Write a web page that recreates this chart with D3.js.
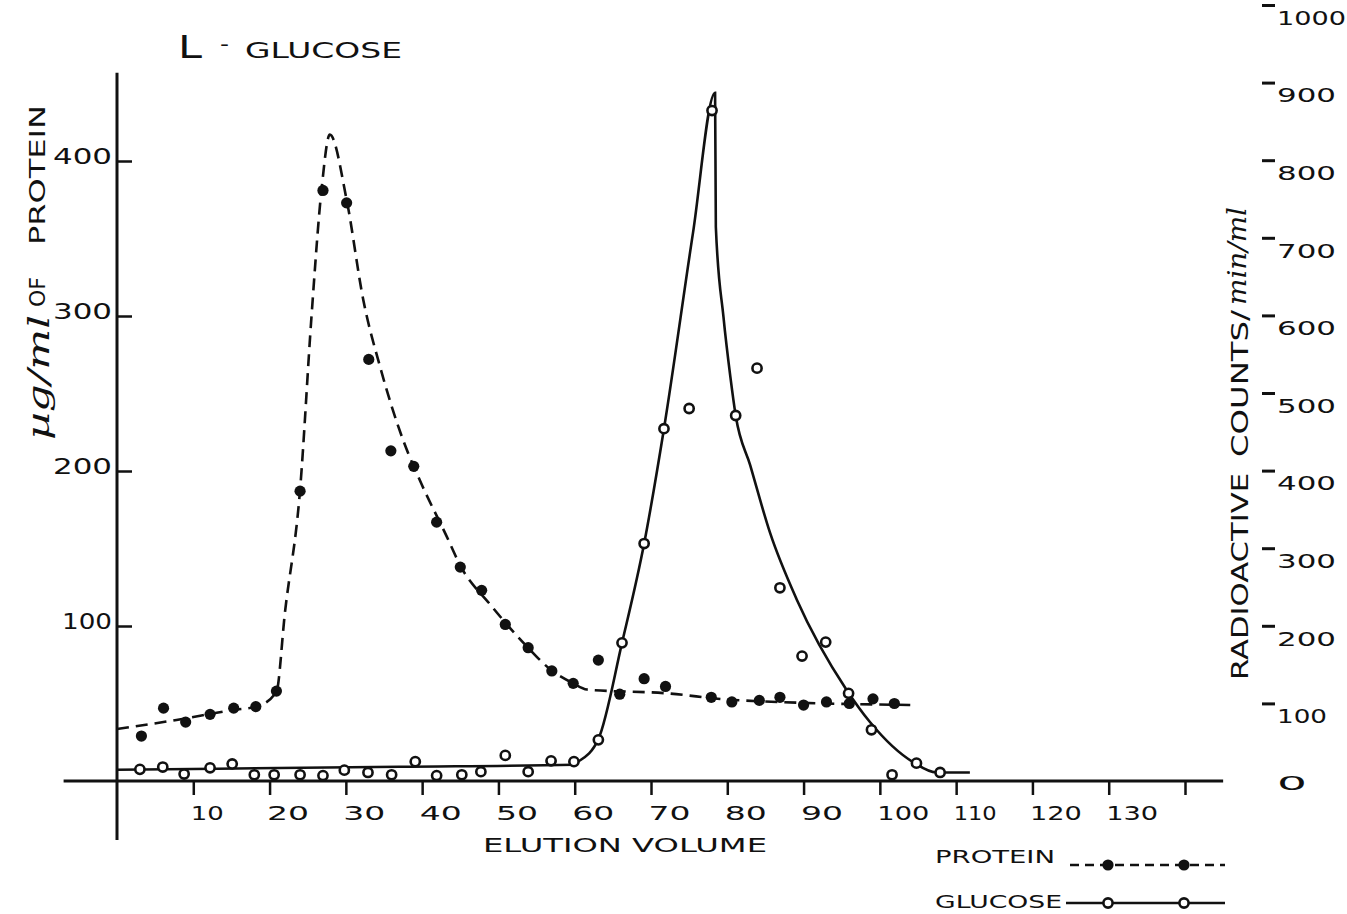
<!DOCTYPE html>
<html>
<head>
<meta charset="utf-8">
<script src="https://cdn.jsdelivr.net/npm/d3@7"></script>
<style>
  html, body { margin: 0; padding: 0; background: #fff; }
  svg { display: block; }
  text { fill: #111; font-family: "DejaVu Sans", sans-serif; }
</style>
</head>
<body>
<svg id="chart" width="1347" height="914"></svg>
<script>
// Axis ticks
const xTicks = [10, 20, 30, 40, 50, 60, 70, 80, 90, 100, 110, 120, 130, 140];
const xTickLabels = ["10", "20", "30", "40", "50", "60", "70", "80", "90", "100", "110", "120", "130", ""];
const proteinTicks = [100, 200, 300, 400];
const countTicks = [0, 100, 200, 300, 400, 500, 600, 700, 800, 900, 1000];

// Protein fractions (µg/ml)
const proteinVolume = [3.2, 6.1, 9.0, 12.2, 15.3, 18.2, 20.9, 24.0, 27.0, 30.1, 33.0, 35.9, 38.9, 41.9,
  45.0, 47.8, 50.9, 53.9, 57.0, 59.8, 63.1, 65.9, 69.1, 71.9, 77.9, 80.6, 84.2, 86.9, 90.0, 93.0,
  96.0, 99.1, 101.9];
const proteinConc = [29, 47, 38, 43, 47, 48, 58, 187, 381, 373, 272, 213, 203, 167,
  138, 123, 101, 86, 71, 63, 78, 56, 66, 61, 54, 51, 52, 54, 49, 51,
  50, 53, 50];

// Glucose fractions (counts/min/ml)
const glucoseVolume = [3.0, 6.0, 8.8, 12.2, 15.1, 18.0, 20.6, 24.0, 27.0, 29.8, 32.9, 36.0, 39.1, 41.9,
  45.2, 47.7, 50.9, 53.9, 56.9, 59.9, 63.1, 66.2, 69.1, 71.7, 75.0, 78.0, 81.1, 83.9, 86.9, 89.8,
  92.9, 95.9, 98.9, 101.6, 104.8, 107.9];
const glucoseCounts = [15, 18, 9, 17, 22, 8, 8, 8, 7, 14, 11, 8, 25, 7,
  8, 12, 33, 12, 26, 25, 53, 178, 306, 454, 480, 864, 471, 532, 249, 161,
  179, 113, 66, 8, 23, 11];

// Hand-fitted elution curves
const proteinCurveVolume = [0, 7.8, 15.2, 18.3, 20.9, 22.0, 24.0, 25.5, 26.8, 27.9, 30.1, 32.3, 34.5,
  37.5, 39.7, 43.2, 45.0, 48.9, 53.7, 56.8, 59.8, 61.6, 72.0, 80.7, 104.8];
const proteinCurveConc = [33.5, 39.4, 45.8, 48, 57.6, 108, 188, 300, 381, 417, 375, 310, 267,
  220, 194, 158, 139, 114, 87, 72, 63, 59, 56.6, 52.3, 49];

const glucoseCurveVolume = [0, 37, 59.8, 60.3, 63.1, 66.2, 69.1, 71.7, 75.5, 78.4, 78.5, 79.5, 80.4,
  81.1, 83.0, 85.6, 89.1, 95.6, 98.7, 104.4, 107.4, 111.8];
const glucoseCurveCounts = [14.5, 18.4, 21, 24, 54, 178, 306, 454, 706, 887, 714, 598, 521,
  471, 407, 320, 234, 118, 76, 24, 11, 11];

const ink = "#111";
const svg = d3.select("#chart");

const x = d3.scaleLinear().domain([0, 140]).range([117, 1185]);
const yProtein = d3.scaleLinear().domain([0, 400]).range([781, 161]);
const yCounts = d3.scaleLinear().domain([0, 1000]).range([781, 5]);

// approximate widths of the hand-lettered numerals
const numWidth = s => Array.from(s).reduce((w, c) => w + (c === "1" ? 10 : 19), 0);

// ---- x axis ----
const gx = svg.append("g")
  .attr("transform", `translate(0,${yProtein(0)})`)
  .call(d3.axisBottom(x).tickValues(xTicks).tickSize(14)
    .tickFormat((d, i) => xTickLabels[i]));
gx.select(".domain").remove();
gx.selectAll(".tick line").attr("stroke", ink).attr("stroke-width", 2.5);
gx.selectAll(".tick text")
  .attr("text-anchor", "start")
  .attr("x", -3).attr("y", 39).attr("dy", 0)
  .style("font-size", "20px").style("font-family", "DejaVu Sans").attr("fill", ink)
  .each(function (d, i) {
    const s = xTickLabels[i];
    if (s) d3.select(this).attr("textLength", numWidth(s) + 4).attr("lengthAdjust", "spacingAndGlyphs");
  });
svg.append("line")
  .attr("x1", x(-7)).attr("x2", x(145))
  .attr("y1", yProtein(0)).attr("y2", yProtein(0))
  .attr("stroke", ink).attr("stroke-width", 3);

// ---- left (protein) axis ----
const gl = svg.append("g")
  .attr("transform", `translate(${x(0)},0)`)
  .call(d3.axisLeft(yProtein).tickValues(proteinTicks).tickSize(-15).tickPadding(5));
gl.select(".domain").remove();
gl.selectAll(".tick line").attr("stroke", ink).attr("stroke-width", 2.5);
gl.selectAll(".tick text")
  .attr("y", -4)
  .style("font-size", "21px").style("font-family", "DejaVu Sans").attr("fill", ink)
  .each(function (d) {
    d3.select(this).attr("textLength", numWidth(String(d)) + 2).attr("lengthAdjust", "spacingAndGlyphs");
  });
svg.append("line")
  .attr("x1", x(0)).attr("x2", x(0))
  .attr("y1", yProtein(-38)).attr("y2", yProtein(457))
  .attr("stroke", ink).attr("stroke-width", 3);

// ---- right (counts) axis: flag ticks only ----
const gr = svg.append("g")
  .attr("transform", "translate(1262,0)")
  .call(d3.axisRight(yCounts).tickValues(countTicks).tickSize(13).tickPadding(2)
    .tickFormat(d3.format("d")));
gr.select(".domain").remove();
gr.selectAll(".tick line").attr("stroke", ink).attr("stroke-width", 3)
  .attr("opacity", d => d === 0 ? 0 : 1);
gr.selectAll(".tick text")
  .attr("y", d => d === 0 ? 2 : 13)
  .style("font-size", "20px").style("font-family", "DejaVu Sans").attr("fill", ink)
  .each(function (d) {
    const w = d === 0 ? 30 : numWidth(String(d)) + 2;
    d3.select(this).attr("textLength", w).attr("lengthAdjust", "spacingAndGlyphs");
  });

// ---- curves ----
const proteinCurve = proteinCurveVolume.map((v, i) => [v, proteinCurveConc[i]]);
const glucoseCurve = glucoseCurveVolume.map((v, i) => [v, glucoseCurveCounts[i]]);

svg.append("path")
  .datum(proteinCurve)
  .attr("d", d3.line().x(d => x(d[0])).y(d => yProtein(d[1])).curve(d3.curveMonotoneX))
  .attr("fill", "none").attr("stroke", ink).attr("stroke-width", 2.6)
  .attr("stroke-dasharray", "12 7");

svg.append("path")
  .datum(glucoseCurve)
  .attr("d", d3.line().x(d => x(d[0])).y(d => yCounts(d[1])).curve(d3.curveMonotoneX))
  .attr("fill", "none").attr("stroke", ink).attr("stroke-width", 2.6);

// ---- points ----
svg.append("g").selectAll("circle")
  .data(proteinVolume.map((v, i) => [v, proteinConc[i]]))
  .join("circle")
  .attr("cx", d => x(d[0])).attr("cy", d => yProtein(d[1]))
  .attr("r", 5.6).attr("fill", ink);

svg.append("g").selectAll("circle")
  .data(glucoseVolume.map((v, i) => [v, glucoseCounts[i]]))
  .join("circle")
  .attr("cx", d => x(d[0])).attr("cy", d => yCounts(d[1]))
  .attr("r", 4.6).attr("fill", "#fff").attr("stroke", ink).attr("stroke-width", 2.6);

// ---- titles ----
svg.append("text").attr("x", 178).attr("y", 58)
  .style("font-size", "32px").attr("textLength", 24).attr("lengthAdjust", "spacingAndGlyphs")
  .text("L");
svg.append("text").attr("x", 220).attr("y", 51)
  .style("font-size", "20px").attr("textLength", 9).attr("lengthAdjust", "spacingAndGlyphs")
  .text("-");
svg.append("text").attr("x", 245).attr("y", 58)
  .style("font-size", "21px").attr("textLength", 157).attr("lengthAdjust", "spacingAndGlyphs")
  .text("GLUCOSE");

svg.append("text").attr("x", 483).attr("y", 852)
  .style("font-size", "20px").attr("textLength", 284).attr("lengthAdjust", "spacingAndGlyphs")
  .text("ELUTION VOLUME");

// left axis title
svg.append("text").attr("transform", "translate(49,440) rotate(-90)")
  .style("font-size", "30px").style("font-family", "DejaVu Serif").style("font-style", "italic")
  .attr("textLength", 125).attr("lengthAdjust", "spacingAndGlyphs")
  .text("µg/ml");
svg.append("text").attr("transform", "translate(45,307) rotate(-90)")
  .style("font-size", "21px").attr("textLength", 30).attr("lengthAdjust", "spacingAndGlyphs")
  .text("OF");
svg.append("text").attr("transform", "translate(45,245) rotate(-90)")
  .style("font-size", "21px").attr("textLength", 140).attr("lengthAdjust", "spacingAndGlyphs")
  .text("PROTEIN");

// right axis title
svg.append("text").attr("transform", "translate(1248,680) rotate(-90)")
  .style("font-size", "23px").attr("textLength", 207).attr("lengthAdjust", "spacingAndGlyphs")
  .text("RADIOACTIVE");
svg.append("text").attr("transform", "translate(1248,457) rotate(-90)")
  .style("font-size", "23px").attr("textLength", 147).attr("lengthAdjust", "spacingAndGlyphs")
  .text("COUNTS/");
svg.append("text").attr("transform", "translate(1246,305) rotate(-90)")
  .style("font-size", "26px").style("font-family", "DejaVu Serif").style("font-style", "italic")
  .attr("textLength", 98).attr("lengthAdjust", "spacingAndGlyphs")
  .text("min/ml");

// ---- legend ----
const legend = svg.append("g");
legend.append("text").attr("x", 935).attr("y", 863)
  .style("font-size", "18px").attr("textLength", 120).attr("lengthAdjust", "spacingAndGlyphs")
  .text("PROTEIN");
legend.append("line").attr("x1", 1070).attr("x2", 1225).attr("y1", 865).attr("y2", 865)
  .attr("stroke", ink).attr("stroke-width", 2.6).attr("stroke-dasharray", "9 6");
legend.selectAll(".pdot").data([1108, 1184]).join("circle")
  .attr("cx", d => d).attr("cy", 865).attr("r", 5.6).attr("fill", ink);

legend.append("text").attr("x", 935).attr("y", 908)
  .style("font-size", "18px").attr("textLength", 127).attr("lengthAdjust", "spacingAndGlyphs")
  .text("GLUCOSE");
legend.append("line").attr("x1", 1066).attr("x2", 1225).attr("y1", 903).attr("y2", 903)
  .attr("stroke", ink).attr("stroke-width", 2.6);
legend.selectAll(".gdot").data([1108, 1184]).join("circle")
  .attr("cx", d => d).attr("cy", 903).attr("r", 4.6)
  .attr("fill", "#fff").attr("stroke", ink).attr("stroke-width", 2.6);
</script>
</body>
</html>
